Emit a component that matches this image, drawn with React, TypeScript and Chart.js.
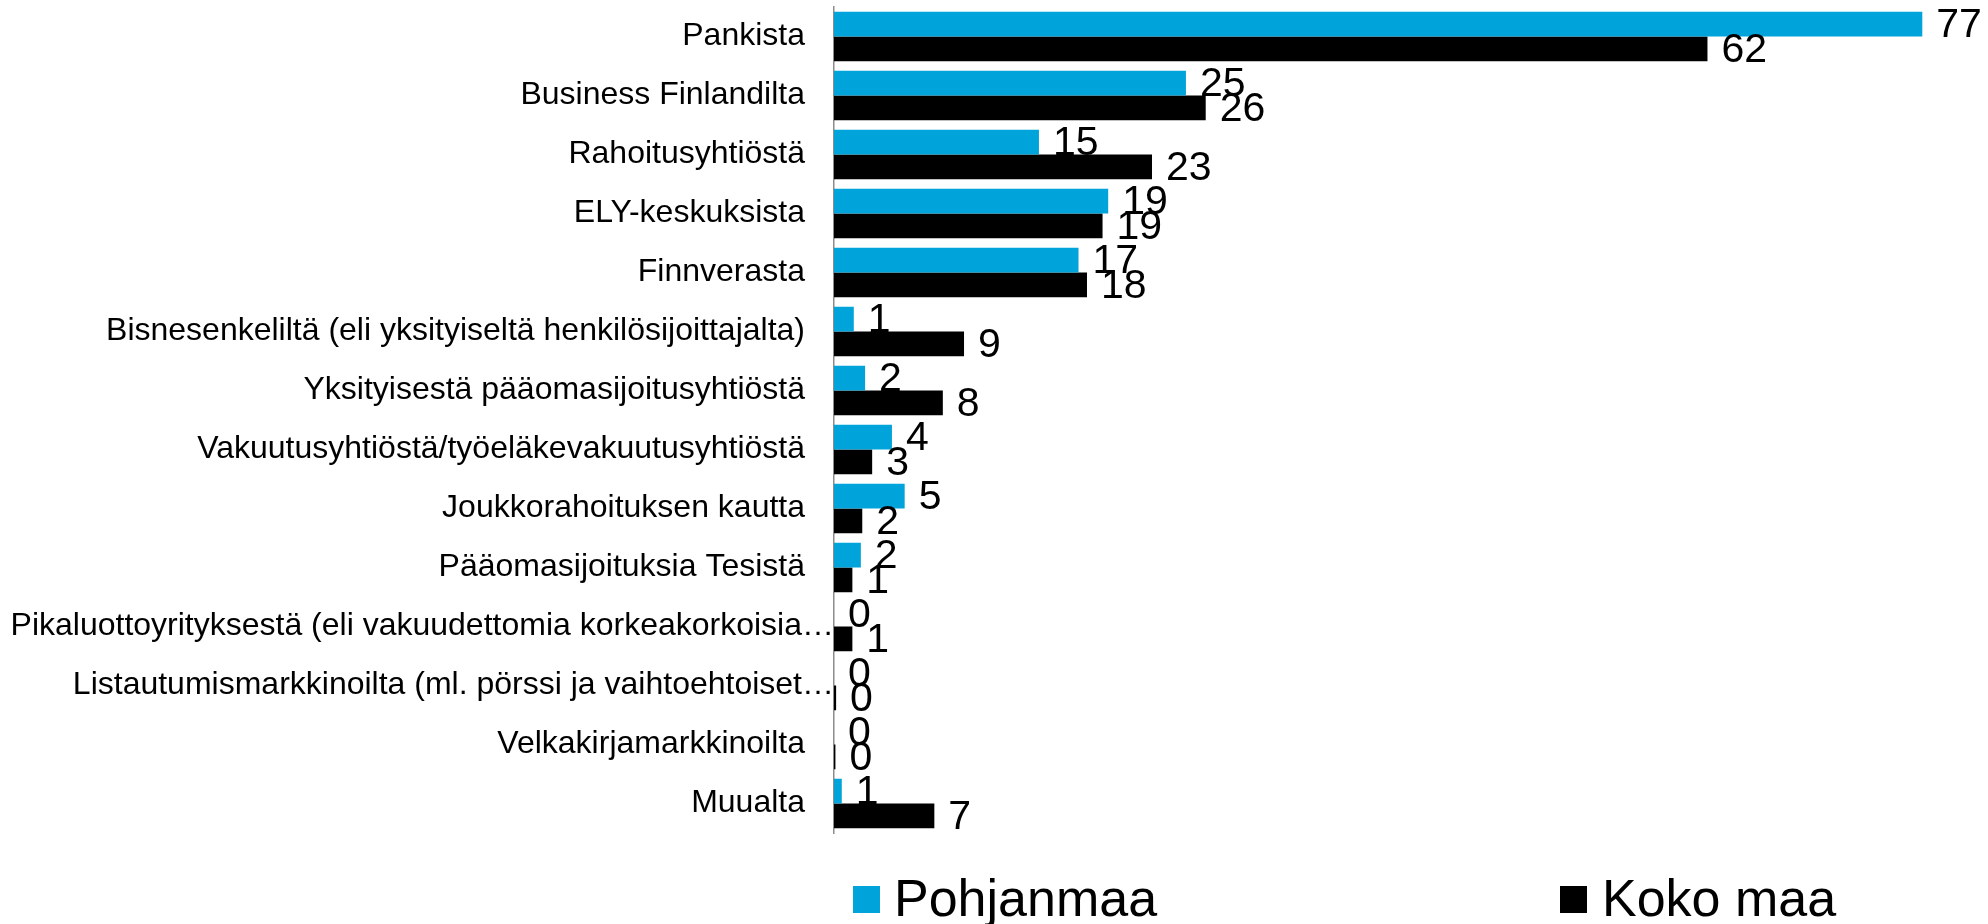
import React, { useEffect, useRef } from "react";
import { Chart, registerables } from "chart.js";

Chart.register(...registerables);

const categories: string[] = [
  "Pankista",
  "Business Finlandilta",
  "Rahoitusyhtiöstä",
  "ELY-keskuksista",
  "Finnverasta",
  "Bisnesenkeliltä (eli yksityiseltä henkilösijoittajalta)",
  "Yksityisestä pääomasijoitusyhtiöstä",
  "Vakuutusyhtiöstä/työeläkevakuutusyhtiöstä",
  "Joukkorahoituksen kautta",
  "Pääomasijoituksia Tesistä",
  "Pikaluottoyrityksestä (eli vakuudettomia korkeakorkoisia…",
  "Listautumismarkkinoilta (ml. pörssi ja vaihtoehtoiset…",
  "Velkakirjamarkkinoilta",
  "Muualta",
];

const seriesNames: string[] = ["Pohjanmaa", "Koko maa"];

const pohjanmaa: number[] = [77, 24.9, 14.5, 19.4, 17.3, 1.4, 2.2, 4.1, 5.0, 1.9, 0, 0, 0, 0.55];
const kokoMaa: number[] = [61.8, 26.3, 22.5, 19.0, 17.9, 9.2, 7.7, 2.7, 2.0, 1.3, 1.3, 0.15, 0.1, 7.1];

const seriesColors: string[] = ["#00A3DA", "#000000"];

const FONT = '"Liberation Sans", Arial, sans-serif';

const valueLabelPlugin = {
  id: "valueLabels",
  afterDatasetsDraw(chart: any) {
    const ctx = chart.ctx;
    ctx.save();
    ctx.font = `41px ${FONT}`;
    ctx.fillStyle = "#000";
    ctx.textBaseline = "middle";
    ctx.textAlign = "left";
    chart.data.datasets.forEach((ds: any, i: number) => {
      const meta = chart.getDatasetMeta(i);
      meta.data.forEach((bar: any, j: number) => {
        const v = ds.data[j] as number;
        ctx.fillText(String(Math.round(v)), bar.x + 14, bar.y + 2);
      });
    });
    ctx.restore();
  },
};

// Truncated category labels (ending in an ellipsis) sit flush against the axis, as in the source.
const truncatedLabelPlugin = {
  id: "truncatedLabels",
  beforeDraw(chart: any) {
    const scale = chart.scales.y;
    if (!scale || typeof scale.getLabelItems !== "function") return;
    const items = scale.getLabelItems(chart.chartArea);
    items.forEach((it: any) => {
      const text = Array.isArray(it.label) ? it.label.join(" ") : String(it.label);
      if (text.endsWith("…") && !it.__shifted && it.options && it.options.translation) {
        it.options.translation[0] += 29;
        it.__shifted = true;
      }
    });
  },
};

const legendSlots = [
  { box: 853, text: 894 },
  { box: 1560, text: 1602 },
];

const customLegendPlugin = {
  id: "customLegend",
  afterDraw(chart: any) {
    const ctx = chart.ctx;
    ctx.save();
    ctx.font = `52px ${FONT}`;
    ctx.textBaseline = "alphabetic";
    ctx.textAlign = "left";
    chart.data.datasets.forEach((ds: any, i: number) => {
      const slot = legendSlots[i];
      ctx.fillStyle = ds.backgroundColor;
      ctx.fillRect(slot.box, 886, 27, 27);
      ctx.fillStyle = "#000";
      ctx.fillText(ds.label, slot.text, 916);
    });
    ctx.restore();
  },
};

export default function App() {
  const canvasRef = useRef<HTMLCanvasElement | null>(null);

  useEffect(() => {
    if (!canvasRef.current) return;
    const chart = new Chart(canvasRef.current, {
      type: "bar",
      data: {
        labels: categories,
        datasets: [
          {
            label: seriesNames[0],
            data: pohjanmaa,
            backgroundColor: seriesColors[0],
            categoryPercentage: 0.835,
            barPercentage: 1,
          },
          {
            label: seriesNames[1],
            data: kokoMaa,
            backgroundColor: seriesColors[1],
            categoryPercentage: 0.835,
            barPercentage: 1,
          },
        ],
      },
      options: {
        indexAxis: "y",
        responsive: false,
        animation: false,
        events: [],
        layout: { padding: { left: 0, right: 23.3, top: 7, bottom: 91 } },
        plugins: {
          legend: { display: false },
          tooltip: { enabled: false },
        },
        scales: {
          x: {
            display: false,
            min: 0,
            max: 80,
          },
          y: {
            grid: { display: false, drawTicks: false },
            border: { display: true, color: "#8c8c8c", width: 1.5 },
            ticks: {
              autoSkip: false,
              padding: 29,
              color: "#000",
              font: { family: FONT, size: 32 },
            },
            afterFit(scale: any) {
              scale.width = 834;
              scale.paddingTop = 0;
              scale.paddingBottom = 0;
            },
          },
        },
      },
      plugins: [truncatedLabelPlugin, valueLabelPlugin, customLegendPlugin],
    });
    return () => chart.destroy();
  }, []);

  return (
    <div style={{ position: "absolute", left: 0, top: 0, width: 1988, height: 924 }}>
      <canvas ref={canvasRef} width={1988} height={924} style={{ display: "block" }} />
    </div>
  );
}
